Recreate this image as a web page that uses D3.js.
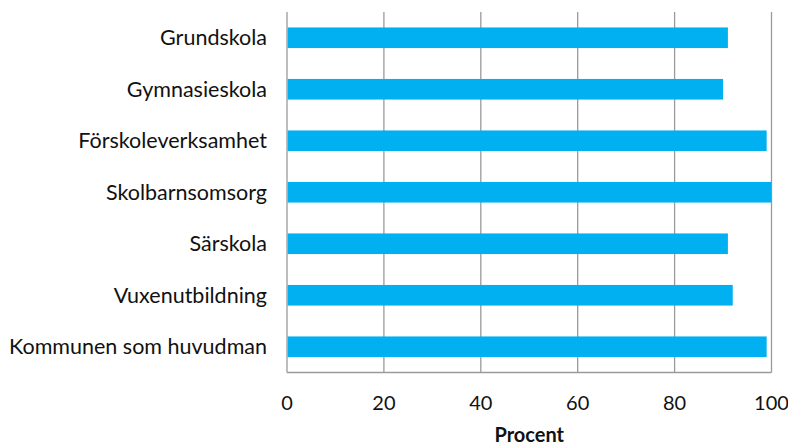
<!DOCTYPE html>
<html>
<head>
<meta charset="utf-8">
<script src="https://cdn.jsdelivr.net/npm/d3@7"></script>
<style>
  body { margin: 0; background: #fff; }
  svg text { font-family: Lato, "Open Sans", sans-serif; fill: #111; }
</style>
</head>
<body>
<svg id="chart" width="788" height="445"></svg>
<script>
// chart data
const categories = ["Grundskola", "Gymnasieskola", "Förskoleverksamhet", "Skolbarnsomsorg",
                    "Särskola", "Vuxenutbildning", "Kommunen som huvudman"];
const values = [91, 90, 99, 100, 91, 92, 99];
const xTicks = [0, 20, 40, 60, 80, 100];
const xTitle = "Procent";

const svg = d3.select("#chart");
// plot area edges
const plotL = 287, plotR = 771.5, plotT = 12, plotB = 372.5;

const x = d3.scaleLinear().domain([0, 100]).range([plotL, plotR]);
const y = d3.scaleBand().domain(categories).range([plotT, plotB]).paddingInner(0.6).paddingOuter(0.3);

// gridlines
svg.append("g").selectAll("line")
    .data(xTicks)
    .join("line")
    .attr("x1", d => x(d)).attr("x2", d => x(d))
    .attr("y1", plotT).attr("y2", plotB)
    .attr("stroke", "#9a9a9a")
    .attr("stroke-width", 1.3);

// bottom axis line
svg.append("line")
    .attr("x1", plotL).attr("x2", plotR)
    .attr("y1", plotB).attr("y2", plotB)
    .attr("stroke", "#9a9a9a")
    .attr("stroke-width", 1.3);

// bars
svg.append("g").selectAll("rect")
    .data(values)
    .join("rect")
    .attr("x", x(0) + 0.7)
    .attr("y", (d, i) => y(categories[i]))
    .attr("width", d => x(d) - x(0) - 0.7)
    .attr("height", y.bandwidth())
    .attr("fill", "#00B0F0");

// tick labels
svg.append("g").selectAll("text")
    .data(xTicks)
    .join("text")
    .attr("x", d => x(d))
    .attr("y", 410)
    .attr("text-anchor", "middle")
    .attr("font-size", 20)
    .text(d => d);

// category labels
svg.append("g").selectAll("text")
    .data(categories)
    .join("text")
    .attr("x", 267)
    .attr("y", d => y(d) + y.bandwidth() / 2)
    .attr("dy", "0.36em")
    .attr("text-anchor", "end")
    .attr("font-size", 21.5)
    .text(d => d);

// axis title
svg.append("text")
    .attr("x", (plotL + plotR) / 2)
    .attr("y", 442)
    .attr("text-anchor", "middle")
    .attr("font-size", 20)
    .attr("font-weight", "bold")
    .text(xTitle);
</script>
</body>
</html>
